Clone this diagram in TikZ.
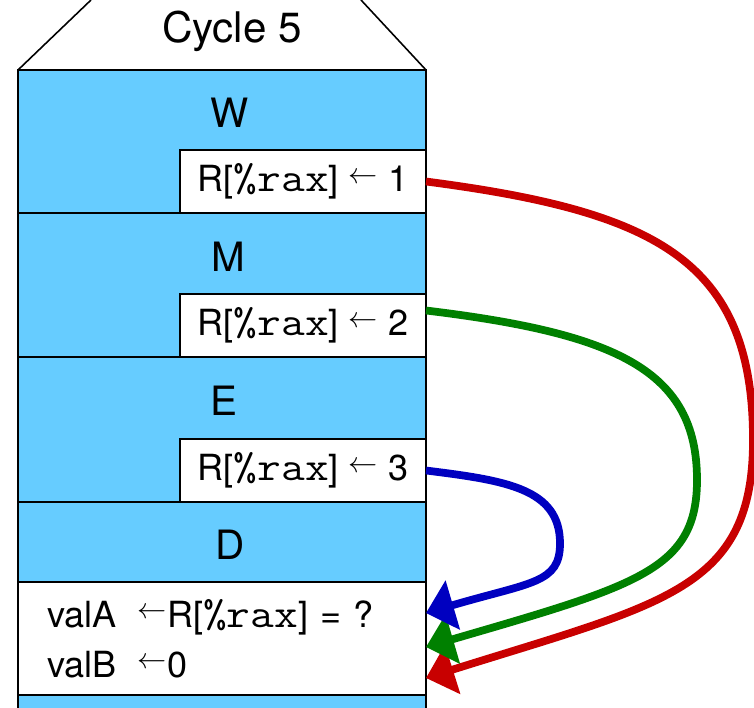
\documentclass[tikz,border=0pt]{standalone}
\usepackage{fontspec}
\setmainfont{TeX Gyre Heros}
\usepackage{tikz}
\usetikzlibrary{positioning, arrows.meta}

\definecolor{stagecyan}{RGB}{102,204,255}
\definecolor{fwdred}{RGB}{200,0,0}
\definecolor{fwdgreen}{RGB}{0,128,0}
\definecolor{fwdblue}{RGB}{0,0,192}

\newcommand{\regrax}{{\fontsize{23}{24}\selectfont\ttfamily\scalebox{1.14}[1]{\%rax}}}
\newcommand{\getsto}{\raisebox{0.45ex}{\scalebox{0.8}{$\leftarrow$}}}

\begin{document}
\begin{tikzpicture}[
    font=\fontsize{20.5}{28.5}\selectfont,
    stagebox/.style = {draw, line width=1.4pt, fill=stagecyan, outer sep=0pt, minimum width=8.16cm, inner sep=0pt},
    resbox/.style = {draw, line width=1.4pt, fill=white, outer sep=0pt, minimum width=4.92cm, minimum height=1.26cm, inner sep=0pt},
    stagelabel/.style = {inner sep=0pt, font=\fontsize{23}{26}\selectfont},
    header/.style = {line width=0.9pt},
    arrow/.style = {-{Triangle[width=10mm, length=5.6mm]}, line width=4.4pt}
]
    \path[use as bounding box, clip] (0,0) rectangle (15.08,14.14);

    % pipeline stages, top to bottom
    \node[stagebox, minimum height=2.86cm, anchor=north west] (wstage) at (0.36,12.74) {};
    \node[stagebox, minimum height=2.88cm, below=0pt of wstage] (mstage) {};
    \node[stagebox, minimum height=2.90cm, below=0pt of mstage] (estage) {};
    \node[stagebox, minimum height=1.60cm, below=0pt of estage] (dstage) {};
    \node[stagebox, fill=white, minimum height=2.26cm, below=0pt of dstage, align=left, text width=7.0cm, inner xsep=0.58cm] (fstage) {valA\hspace{0.6em}\getsto R[\regrax] = ?\\ valB\hspace{0.6em}\getsto 0};
    \node[stagebox, minimum height=2.88cm, below=0pt of fstage] (nextstage) {};

    % cycle header
    \draw[header] (wstage.north west) -- ++(1.46,1.4);
    \draw[header] (wstage.north east) -- ++(-1.3,1.4);
    \node[stagelabel, font=\fontsize{24}{26}\selectfont, anchor=base] (cycle) at ([xshift=0.2cm, yshift=0.54cm]wstage.north) {Cycle 5};

    % stage names
    \node[stagelabel, below=0.56cm of wstage.north, xshift=0.16cm] (wlabel) {W};
    \node[stagelabel, below=0.58cm of mstage.north, xshift=0.12cm] (mlabel) {M};
    \node[stagelabel, below=0.58cm of estage.north, xshift=0.04cm] (elabel) {E};
    \node[stagelabel, below=0.56cm of dstage.north, xshift=0.16cm] (dlabel) {D};

    % register values in flight
    \node[resbox, above left=0pt and 0pt of wstage.south east] (wres) {R[\regrax] \getsto{} 1};
    \node[resbox, above left=0pt and 0pt of mstage.south east] (mres) {R[\regrax] \getsto{} 2};
    \node[resbox, above left=0pt and 0pt of estage.south east] (eres) {R[\regrax] \getsto{} 3};

    % bends of the forwarding paths
    \coordinate (redbend) at ([xshift=6.54cm, yshift=-5.17cm]wres.east);
    \coordinate (greenbend) at ([xshift=5.42cm, yshift=-3.09cm]mres.east);
    \coordinate (bluebend) at ([xshift=2.68cm, yshift=-1.46cm]eres.east);

    % forwarding paths
    \draw[arrow, fwdred] (wres.east) .. controls +(4.6,-0.6) and +(0,3.6) .. (redbend)
        .. controls +(0,-3.0) and +(4.77,1.5) .. ([yshift=-0.79cm]fstage.east);
    \draw[arrow, fwdgreen] ([yshift=0.3cm]mres.east) .. controls +(3.8,-0.46) and +(0,2.2) .. (greenbend)
        .. controls +(0,-1.8) and +(4.22,1.23) .. ([yshift=-0.17cm]fstage.east);
    \draw[arrow, fwdblue] (eres.east) .. controls +(1.6,-0.2) and +(0,1.1) .. (bluebend)
        .. controls +(0,-0.8) and +(2.11,0.62) .. ([yshift=0.51cm]fstage.east);
\end{tikzpicture}
\end{document}
